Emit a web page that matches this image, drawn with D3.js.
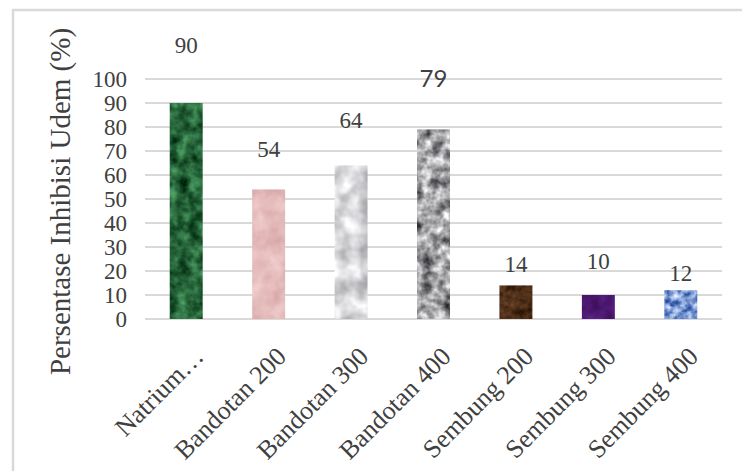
<!DOCTYPE html>
<html>
<head>
<meta charset="utf-8">
<script src="https://cdn.jsdelivr.net/npm/d3@7"></script>
<style>
  html, body { margin: 0; padding: 0; background: #fff; }
  svg { display: block; }
</style>
</head>
<body>
<script>
// ---- data ----
const categories = ["Natrium…", "Bandotan 200", "Bandotan 300", "Bandotan 400", "Sembung 200", "Sembung 300", "Sembung 400"];
const values = [90, 54, 64, 79, 14, 10, 12];
const valueLabels = ["90", "54", "64", "79", "14", "10", "12"];
const yTicks = [0, 10, 20, 30, 40, 50, 60, 70, 80, 90, 100];
const yTitle = "Persentase Inhibisi Udem (%)";
// label baselines, in value units
const labelAt = [110.8, 67.5, 79.6, 96.7, 19.6, 21, 15.8];

// ---- styles ----
const textures = [
  { c1: "#0c3d1c", c2: "#3f8a55", freq: 0.09, contrast: 2.2 },
  { c1: "#d9a9a9", c2: "#f0cccc", freq: 0.06, contrast: 1.6 },
  { c1: "#b4b4b8", c2: "#f6f6f8", freq: 0.05, contrast: 2.4 },
  { c1: "#606064", c2: "#e0e0e2", freq: 0.09, contrast: 2.6 },
  { c1: "#2e1808", c2: "#6a4226", freq: 0.12, contrast: 2.0 },
  { c1: "#40105e", c2: "#5a2286", freq: 0.08, contrast: 1.6 },
  { c1: "#3e64b0", c2: "#b8cdf2", freq: 0.14, contrast: 2.6 }
];

const W = 742, H = 471;
const margin = { left: 145, right: 20, top: 79, bottom: 152 };
const textColor = "#404040";
const gridColor = "#d9d9d9";
const serif = "'Liberation Serif', 'Times New Roman', serif";

const svg = d3.select("body").append("svg").attr("width", W).attr("height", H);

// frame
svg.append("path")
  .attr("d", `M13,${H} L13,10 L${W},10`)
  .attr("fill", "none").attr("stroke", "#d9d9d9").attr("stroke-width", 2.5);

const x = d3.scaleBand().domain(categories)
  .range([margin.left, W - margin.right])
  .paddingInner(0.6).paddingOuter(0.3);
const y = d3.scaleLinear().domain([0, 100]).range([H - margin.bottom, margin.top]);

// texture filters
const defs = svg.append("defs");
const hex = c => { const r = d3.rgb(c); return [r.r / 255, r.g / 255, r.b / 255]; };
textures.forEach((t, i) => {
  const a = hex(t.c1), b = hex(t.c2);
  const rows = [0, 1, 2].map(k => {
    const d = b[k] - a[k];
    const gain = d * t.contrast;
    const off = a[k] + d * (0.5 - 0.5 * t.contrast);
    return [gain, 0, 0, 0, off].join(" ");
  });
  const f = defs.append("filter").attr("id", "tex" + i)
    .attr("x", 0).attr("y", 0).attr("width", 1).attr("height", 1)
    .attr("color-interpolation-filters", "sRGB");
  f.append("feTurbulence").attr("type", "fractalNoise")
    .attr("baseFrequency", t.freq).attr("numOctaves", 3).attr("seed", i * 7 + 3).attr("result", "n");
  f.append("feColorMatrix").attr("in", "n").attr("type", "matrix")
    .attr("values", rows.join(" ") + " 0 0 0 0 1").attr("result", "c");
  f.append("feComposite").attr("in", "c").attr("in2", "SourceGraphic").attr("operator", "in");
});

// gridlines
svg.append("g").selectAll("line").data(yTicks).join("line")
  .attr("x1", margin.left).attr("x2", W - margin.right)
  .attr("y1", d => Math.round(y(d))).attr("y2", d => Math.round(y(d)))
  .attr("stroke", gridColor).attr("stroke-width", 2);

// y axis labels
const yAxis = d3.axisLeft(y).tickValues(yTicks).tickSize(0).tickPadding(0);
const gy = svg.append("g").attr("transform", `translate(${margin.left - 18},0)`).call(yAxis);
gy.select(".domain").remove();
gy.selectAll("text")
  .attr("font-family", serif)
  .attr("font-size", 23).attr("fill", textColor).attr("dy", "0.34em");

// bars
svg.append("g").selectAll("rect").data(values).join("rect")
  .attr("x", (d, i) => x(categories[i]))
  .attr("width", x.bandwidth())
  .attr("y", d => y(d))
  .attr("height", d => y(0) - y(d))
  .attr("fill", (d, i) => textures[i].c1)
  .attr("filter", (d, i) => `url(#tex${i})`);

// value labels
svg.append("g").selectAll("text").data(valueLabels).join("text")
  .attr("x", (d, i) => x(categories[i]) + x.bandwidth() / 2)
  .attr("y", (d, i) => y(labelAt[i]))
  .attr("text-anchor", "middle")
  .attr("font-family", (d, i) => i === 3 ? "Lato, 'Open Sans', sans-serif" : serif)
  .attr("font-size", (d, i) => i === 3 ? 24 : 23)
  .attr("fill", textColor)
  .text(d => d);

// x axis labels (rotated)
const xAxis = d3.axisBottom(x).tickSize(0).tickPadding(0);
const gx = svg.append("g").attr("transform", `translate(0,${y(0)})`).call(xAxis);
gx.select(".domain").remove();
gx.selectAll("text")
  .attr("font-family", serif)
  .attr("font-size", 26).attr("fill", textColor)
  .attr("text-anchor", "end").attr("dy", 0).attr("y", 0)
  .attr("transform", "translate(19,39) rotate(-45)");

// y title
svg.append("text")
  .attr("transform", `translate(70,${(30 + 373) / 2}) rotate(-90)`)
  .attr("text-anchor", "middle")
  .attr("font-family", serif)
  .attr("font-size", 29).attr("fill", textColor)
  .text(yTitle);
</script>
</body>
</html>
